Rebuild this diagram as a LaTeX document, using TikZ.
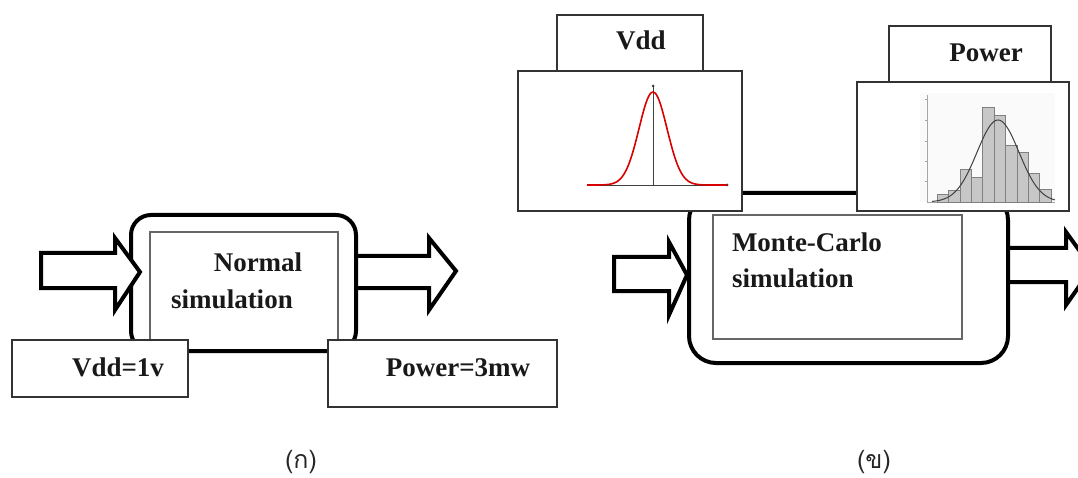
\documentclass[tikz,border=0pt]{standalone}
\usepackage{fontspec}
\setmainfont{Liberation Serif}
\newfontfamily\thaifont[Script=Thai]{Loma}
\begin{document}
\begin{tikzpicture}[x=1pt,y=-1pt,
  every node/.style={inner sep=0pt, outer sep=0pt},
  outerbox/.style={draw=black, line width=4pt, rounded corners=#1, anchor=north west},
  innerbox/.style={draw=black!60, line width=1.5pt, anchor=north west},
  lblbox/.style={draw=black!80, line width=1.5pt, fill=white, anchor=north west},
  blockarrow/.style={draw=black, line width=4pt, fill=white, line join=miter},
  txt/.style={font=\bfseries\fontsize{27}{32}\selectfont, text=black!90},
  captext/.style={font=\thaifont\fontsize{25}{30}\selectfont, text=black!85},
  axisline/.style={draw=black!75, line width=0.8pt},
  histbar/.style={fill=black!22, draw=black!50, line width=0.6pt}
]
\useasboundingbox (0,0) rectangle (1078,478);
\begin{scope}
\clip (0,0) rectangle (1078,478);

% ---------------- (a) normal simulation ----------------
\node[innerbox, minimum width=188pt, minimum height=119pt] (innerA) at (150,232) {};
\node[outerbox=20pt, minimum width=225pt, minimum height=136pt] (outerA) at (131,215) {};
\draw[blockarrow] (41,253) -- (115,253) -- (115,238) -- (140,272) -- (115,310) -- (115,288) -- (41,288) -- cycle;
\draw[blockarrow, fill=none] (outerA.east |- 0,256) -- (429,256) -- (429,238) -- (456,271) -- (429,310) -- (429,288) -- (outerA.east |- 0,288);
\node[lblbox, minimum width=176pt, minimum height=57pt] (vddA) at (12,340) {};
\node[lblbox, minimum width=229pt, minimum height=67pt] (powA) at (328,340) {};
\node[txt] (normalT) at (258,262) {Normal};
\node[txt] (simT) at (232,299) {simulation};
\node[txt] (vddT) at (118,367) {Vdd=1v};
\node[txt] (powT) at (458,368) {Power=3mw};
\node[captext] (capA) at (301,462) {(ก)};

% ---------------- (b) Monte-Carlo simulation ----------------
\node[outerbox=27pt, minimum width=319pt, minimum height=170pt] (outerB) at (689,193) {};
\node[innerbox, minimum width=249pt, minimum height=124pt] (innerB) at (713,215) {};
\draw[blockarrow] (614,257) -- (669,257) -- (669,242) -- (687,275) -- (669,315) -- (669,291) -- (614,291) -- cycle;
\draw[blockarrow, fill=none] (outerB.east |- 0,248) -- (1066,248) -- (1066,232) -- (1092,268) -- (1066,305) -- (1066,282) -- (outerB.east |- 0,282);

% Vdd plot
\node[lblbox, minimum width=146pt, minimum height=56pt] (vddLbl) at (557,15) {};
\node[lblbox, minimum width=224pt, minimum height=140pt] (vddPlot) at (518,71) {};
\draw[axisline] (587,185) -- (727,185);
\draw[axisline] (653,185) -- (653,86);
\fill[black!75] (727,185) circle (1.5pt) (653,86) circle (1.5pt);
\draw[red!85!black, line width=1.6pt, domain=587:727, samples=90, smooth]
  plot (\x, {185 - 93*exp(-((\x-653)^2)/392)});
\node[txt] (vddB) at (641,40) {Vdd};

% Power plot
\node[lblbox, minimum width=162pt, minimum height=56pt] (powLbl) at (889,26) {};
\node[lblbox, minimum width=212pt, minimum height=129pt] (powPlot) at (857,82) {};
\fill[black!2] (920,93) rectangle (1055,202);
\draw[black!35, line width=0.6pt] (927,95) -- (927,202) -- (1055,202);
\foreach \ty in {99,120,141,161,181} \draw[black!35, line width=0.5pt] (925,\ty) -- (927,\ty);
\foreach \i/\h in {0/194,1/190,2/169,3/177,4/107,5/115,6/145,7/152,8/173,9/189}
  \draw[histbar] ({937+11.4*\i},202) rectangle ({948.4+11.4*\i},\h);
\draw[black!75, line width=1pt, domain=932:1055, samples=90, smooth]
  plot (\x, {202 - 82*exp(-((\x-998)^2)/882)});
\node[txt] (powB) at (986,53) {Power};

\node[txt, anchor=west] (mcT) at (732,242) {Monte-Carlo};
\node[txt, anchor=west] (simB) at (732,278) {simulation};
\node[captext] (capB) at (874,462) {(ข)};
\end{scope}
\end{tikzpicture}
\end{document}
